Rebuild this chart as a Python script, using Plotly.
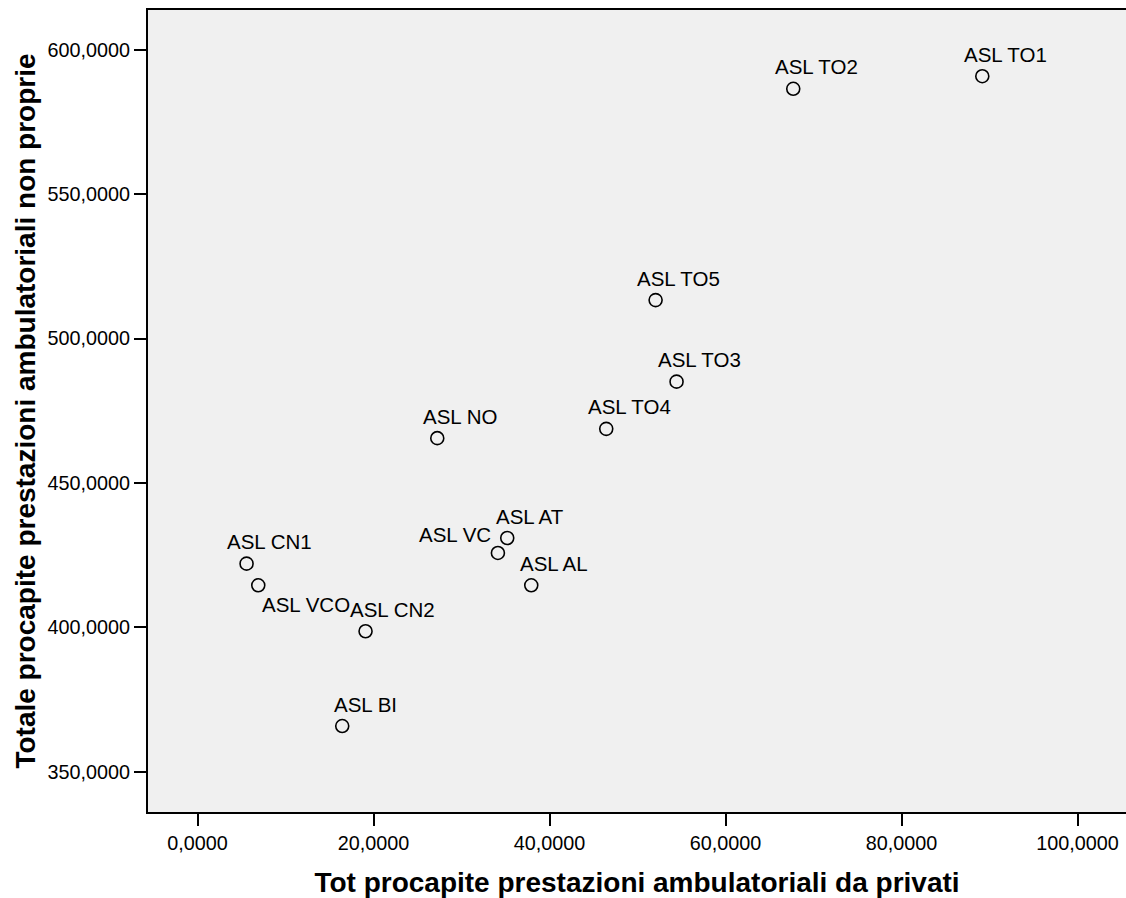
import plotly.graph_objects as go

# ---- data ----
labels = ["ASL TO1", "ASL TO2", "ASL TO5", "ASL TO3", "ASL TO4", "ASL NO",
          "ASL AT", "ASL VC", "ASL AL", "ASL CN1", "ASL VCO", "ASL CN2", "ASL BI"]
x_private = [89.17, 67.69, 52.05, 54.43, 46.44, 27.24,
             35.19, 34.13, 37.92, 5.57, 6.90, 19.09, 16.44]
y_nonown = [590.87, 586.51, 513.31, 485.07, 468.71, 465.49,
            430.91, 425.73, 414.52, 422.03, 414.52, 398.62, 365.77]
x_ticks = [0, 20, 40, 60, 80, 100]
y_ticks = [350, 400, 450, 500, 550, 600]

FONT = "Liberation Sans, Arial, sans-serif"

fig = go.Figure()
fig.add_trace(go.Scatter(
    x=x_private, y=y_nonown, mode="markers",
    marker=dict(symbol="circle-open", size=13, color="black",
                line=dict(width=1.6, color="black")),
    hoverinfo="text", text=labels, showlegend=False,
))

# label placement (style): default above-right, a few exceptions
default_shift = (23, 22)
special_shift = {"ASL VCO": (48, -19), "ASL VC": (-43, 18), "ASL CN2": (27, 22)}
for lab, xv, yv in zip(labels, x_private, y_nonown):
    dx, dy = special_shift.get(lab, default_shift)
    fig.add_annotation(x=xv, y=yv, text=lab, showarrow=False,
                       xanchor="center", yanchor="middle",
                       xshift=dx, yshift=dy,
                       font=dict(family=FONT, size=20.5, color="black"))

axis_common = dict(
    showline=True, linecolor="black", linewidth=2,
    ticks="outside", ticklen=12, tickwidth=2, tickcolor="black",
    showgrid=False, zeroline=False,
    tickformat=".4f",
    tickfont=dict(family=FONT, size=19.8, color="black"),
)

fig.update_layout(
    width=1126, height=898,
    margin=dict(l=148, r=0, t=10, b=86),
    paper_bgcolor="white", plot_bgcolor="#F0F0F0",
    separators=",.",
    xaxis=dict(range=[-5.63, 105.5], tickvals=x_ticks, mirror=True,
               title=dict(text="<b>Tot procapite prestazioni ambulatoriali da privati</b>",
                          font=dict(family=FONT, size=28, color="black"), standoff=20),
               **axis_common),
    yaxis=dict(range=[336.0, 613.8], tickvals=y_ticks, mirror=False,
               title=dict(text="<b>Totale procapite prestazioni ambulatoriali non proprie</b>",
                          font=dict(family=FONT, size=28, color="black"), standoff=4),
               **axis_common),
)

fig.write_html("out.html")
